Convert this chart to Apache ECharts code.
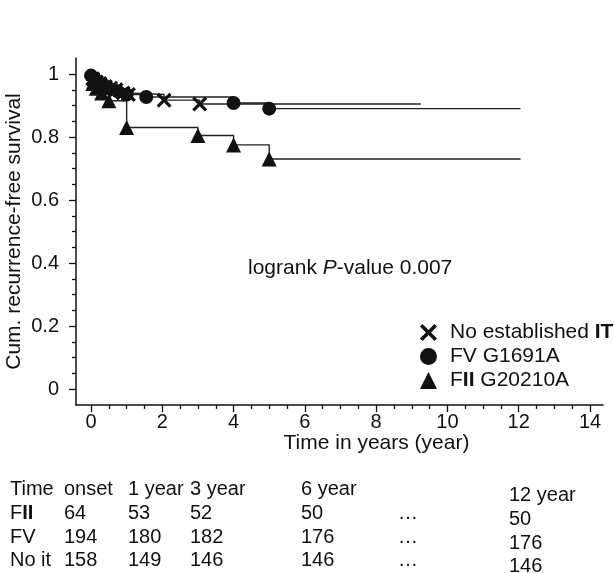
<!DOCTYPE html>
<html>
<head>
<meta charset="utf-8">
<script src="https://cdn.jsdelivr.net/npm/echarts@6/dist/echarts.min.js"></script>
<style>html,body{margin:0;padding:0;background:#fff}#c{width:614px;height:573px}</style>
</head>
<body>
<div id="c"></div>
<script>
// ---- data ----
var xTicks = [0, 2, 4, 6, 8, 10, 12, 14];
var yTicks = [0, 0.2, 0.4, 0.6, 0.8, 1];
var seriesNames = ['No established IT', 'FV G1691A', 'FII G20210A'];
var noIT_t = [0.05, 0.15, 0.25, 0.4, 0.55, 0.7, 0.9, 1.05, 2.05, 3.05, 9.25];
var noIT_s = [0.985, 0.975, 0.97, 0.96, 0.955, 0.95, 0.94, 0.935, 0.917, 0.905, 0.905];
var fv_t = [0, 0.1, 0.2, 0.35, 0.5, 0.75, 1.0, 1.55, 4.0, 5.0, 12.05];
var fv_s = [0.995, 0.985, 0.975, 0.965, 0.955, 0.945, 0.935, 0.927, 0.908, 0.89, 0.89];
var fii_t = [0.05, 0.15, 0.3, 0.5, 1.0, 3.0, 4.0, 5.0, 12.05];
var fii_s = [0.97, 0.955, 0.94, 0.915, 0.83, 0.805, 0.775, 0.73, 0.73];
var tableHeader = ['Time', 'onset', '1 year', '3 year', '6 year', '', '12 year'];
var tableRowNames = ['FII', 'FV', 'No it'];
var tableFII = ['64', '53', '52', '50', '\u2026', '50'];
var tableFV = ['194', '180', '182', '176', '\u2026', '176'];
var tableNoIt = ['158', '149', '146', '146', '\u2026', '146'];
var annotation = 'logrank P-value 0.007';

// ---- build ----
var FONT = '"Liberation Sans", Arial, Helvetica, sans-serif';
var FS = 21;
var TFS = 20;
var TBS = 20;
var crossPath = 'path://M0,3 L3,0 L10,7 L17,0 L20,3 L13,10 L20,17 L17,20 L10,13 L3,20 L0,17 L7,10 Z';
function pairs(t, s) {
  return t.map(function (v, i) {
    var d = { value: [v, s[i]] };
    if (i === t.length - 1) d.symbol = 'none';
    return d;
  });
}
function richName(n) {
  return n.replace('FII', 'F{b|II}').replace(' IT', ' {b|IT}');
}
var colX = [10, 64, 128, 190, 301, 398, 509];
var rowY = [491, 515, 539, 562];
var graphics = [];
var tableRows = [tableFII, tableFV, tableNoIt];
tableHeader.forEach(function (h, j) {
  if (!h) return;
  graphics.push({ type: 'text', left: colX[j], top: rowY[0] - 12 + (j === 6 ? 6 : 0),
    style: { text: h, font: TBS + 'px ' + FONT, fill: '#111' } });
});
tableRows.forEach(function (row, i) {
  graphics.push({ type: 'text', left: colX[0], top: rowY[i + 1] - 12,
    style: { text: richName(tableRowNames[i]), font: TBS + 'px ' + FONT, fill: '#111',
      rich: { b: { fontWeight: 'bold', fontSize: TBS, fontFamily: FONT } } } });
  row.forEach(function (v, j) {
    graphics.push({ type: 'text', left: colX[j + 1], top: rowY[i + 1] - 12 + (j === 5 ? 6 : 0),
      style: { text: v, font: TBS + 'px ' + FONT, fill: '#111' } });
  });
});
var parts = annotation.split('P-value');
graphics.push({ type: 'text', left: 248, top: 258,
  style: { text: parts[0] + '{i|P}-value' + parts[1], font: FS + 'px ' + FONT, fill: '#111',
    rich: { i: { fontStyle: 'italic', fontSize: FS, fontFamily: FONT } } } });

var lineStyle = { color: '#222', width: 1.4 };
var off = { show: false };
function hiddenAxis(grid) {
  return { gridIndex: grid, type: 'value', min: 0, max: 1, axisLine: off, axisTick: off,
    axisLabel: off, splitLine: off };
}
var tickStyle = { color: '#111', width: 1.3 };
var chart = echarts.init(document.getElementById('c'), null, { renderer: 'canvas' });
chart.setOption({
  animation: false,
  textStyle: { fontFamily: FONT },
  grid: [
    { left: 91, right: 24, top: 74, bottom: 184, outerBoundsMode: 'none', containLabel: false },
    { left: 76, right: 11, top: 58, bottom: 168, outerBoundsMode: 'none', containLabel: false },
    { left: 91, right: 24, top: 58, bottom: 168, outerBoundsMode: 'none', containLabel: false },
    { left: 76, right: 11, top: 74, bottom: 184, outerBoundsMode: 'none', containLabel: false }
  ],
  xAxis: [
    { gridIndex: 0, type: 'value', min: xTicks[0], max: xTicks[xTicks.length - 1],
      axisLine: off, axisTick: off, axisLabel: off, splitLine: off },
    { gridIndex: 1, type: 'value', min: 0, max: 1, axisTick: off, axisLabel: off,
      splitLine: off, axisLine: { show: true, lineStyle: { color: '#111', width: 1.5 } },
      name: 'Time in years (year)', nameLocation: 'middle', nameGap: 28,
      nameTextStyle: { color: '#111', fontSize: FS, fontFamily: FONT, padding: [0, 0, 0, 74] } },
    { gridIndex: 2, type: 'value', min: xTicks[0], max: xTicks[xTicks.length - 1], interval: xTicks[1] - xTicks[0],
      axisLine: off, splitLine: off,
      axisTick: { show: true, inside: false, length: 7, lineStyle: tickStyle },
      minorTick: { show: true, splitNumber: 4, length: 4, lineStyle: tickStyle },
      axisLabel: { show: true, inside: false, color: '#111', fontSize: TFS, margin: 7, fontFamily: FONT } },
    hiddenAxis(3)
  ],
  yAxis: [
    { gridIndex: 0, type: 'value', min: yTicks[0], max: yTicks[yTicks.length - 1],
      axisLine: off, axisTick: off, axisLabel: off, splitLine: off },
    { gridIndex: 1, type: 'value', min: 0, max: 1, axisTick: off, axisLabel: off,
      splitLine: off, axisLine: { show: true, lineStyle: { color: '#111', width: 1.5 } },
      name: 'Cum. recurrence-free survival', nameLocation: 'middle', nameGap: 51,
      nameTextStyle: { color: '#111', fontSize: FS, fontFamily: FONT } },
    hiddenAxis(2),
    { gridIndex: 3, type: 'value', min: yTicks[0], max: yTicks[yTicks.length - 1], interval: yTicks[1] - yTicks[0],
      axisLine: off, splitLine: off,
      axisTick: { show: true, inside: false, length: 7, lineStyle: tickStyle },
      minorTick: { show: true, splitNumber: 4, length: 4, lineStyle: tickStyle },
      axisLabel: { show: true, inside: false, color: '#111', fontSize: TFS, margin: 17, fontFamily: FONT } }
  ],
  legend: {
    orient: 'vertical', left: 415, top: 317, itemGap: 3, itemWidth: 17, itemHeight: 17,
    formatter: function (n) { return richName(n); },
    textStyle: { color: '#111', fontSize: FS, fontFamily: FONT, padding: [0, 0, 0, 8],
      rich: { b: { fontWeight: 'bold', fontSize: FS, fontFamily: FONT, color: '#111' } } },
    data: [
      { name: seriesNames[0], icon: crossPath },
      { name: seriesNames[1], icon: 'circle' },
      { name: seriesNames[2], icon: 'triangle' }
    ]
  },
  series: [
    { name: seriesNames[0], type: 'line', step: 'end', xAxisIndex: 0, yAxisIndex: 0, clip: false,
      symbol: crossPath, symbolSize: 15, itemStyle: { color: '#111' }, lineStyle: lineStyle,
      data: pairs(noIT_t, noIT_s) },
    { name: seriesNames[1], type: 'line', step: 'end', xAxisIndex: 0, yAxisIndex: 0, clip: false,
      symbol: 'circle', symbolSize: 14, itemStyle: { color: '#111' }, lineStyle: lineStyle,
      data: pairs(fv_t, fv_s) },
    { name: seriesNames[2], type: 'line', step: 'end', xAxisIndex: 0, yAxisIndex: 0, clip: false,
      symbol: 'triangle', symbolSize: 15, itemStyle: { color: '#111' }, lineStyle: lineStyle,
      data: pairs(fii_t, fii_s) }
  ],
  graphic: graphics
});
</script>
</body>
</html>
